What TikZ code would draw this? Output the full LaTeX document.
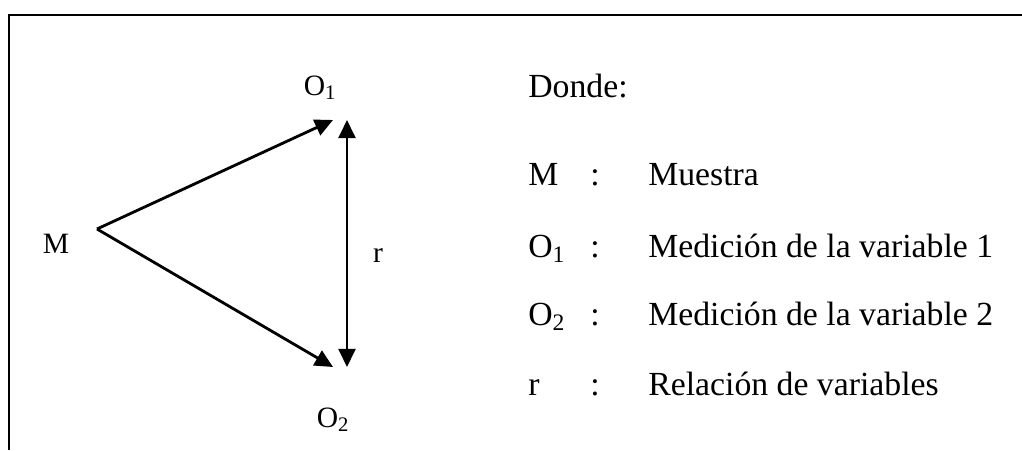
\documentclass[tikz,border=0pt]{standalone}
\usepackage{fontspec}
\setmainfont{Liberation Serif}
\usetikzlibrary{arrows.meta}
\begin{document}
\begin{tikzpicture}[x=0.025cm,y=0.025cm]
	\useasboundingbox (0,0) rectangle (1022,450);
	\draw[line width=1.6pt] (9,0) -- (9,435) -- (1022,435);
	
	\begin{scope}[every node/.style={anchor=base,inner sep=0pt,font=\fontsize{21}{24}\selectfont}]
		\node (M) at (56,197) {M};
		\node (O1) at (320,355) {O\textsubscript{1}};
		\node (O2) at (333,23) {O\textsubscript{2}};
		\node (r) at (378,188) {r};
	\end{scope}
	
	\coordinate (m) at (97,221);
	\coordinate (a) at (333,330);
	\coordinate (b) at (333,83);
	\coordinate (c) at (347,330);
	\coordinate (d) at (347,83);
	
	\begin{scope}[every edge/.style={draw=black,line width=2pt}, >={Triangle[length=0.45cm,width=0.42cm]}]
		\path [->] (m) edge (a);
		\path [->] (m) edge (b);
		\path [<->] (c) edge (d);
	\end{scope}
	
	\begin{scope}[every node/.style={anchor=base west,inner sep=0pt,font=\fontsize{24}{28}\selectfont}]
		\node (donde) at (528,353) {Donde:};
		\node (k1) at (528,265) {M};
		\node (k2) at (528,193) {O\textsubscript{1}};
		\node (k3) at (528,125) {O\textsubscript{2}};
		\node (k4) at (528,55) {r};
		\node (c1) at (590,265) {:};
		\node (c2) at (590,193) {:};
		\node (c3) at (590,125) {:};
		\node (c4) at (590,55) {:};
		\node (t1) at (648,265) {Muestra};
		\node (t2) at (648,193) {Medición de la variable 1};
		\node (t3) at (648,125) {Medición de la variable 2};
		\node (t4) at (648,55) {Relación de variables};
	\end{scope}
\end{tikzpicture}
\end{document}
